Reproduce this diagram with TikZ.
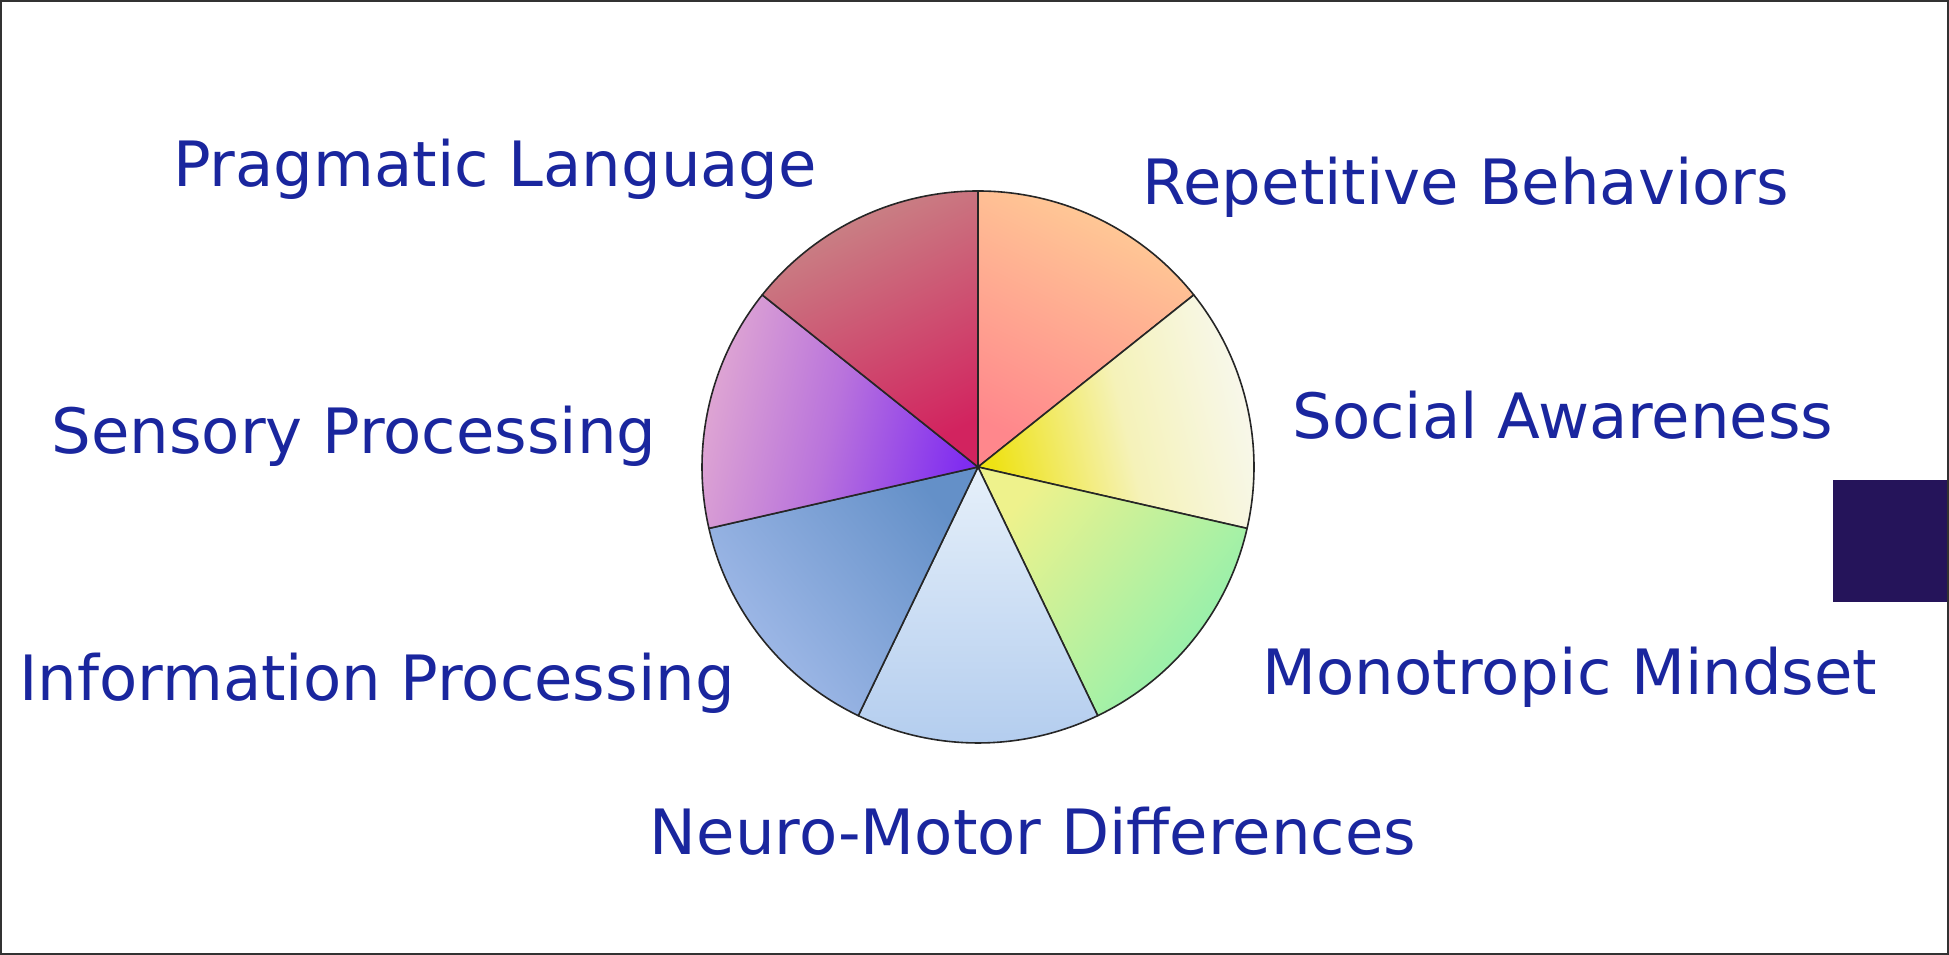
\documentclass[tikz,border=0pt]{standalone}
\usepackage{fontspec}
\setmainfont{DejaVu Sans}

\definecolor{labelblue}{RGB}{26,38,158}
\definecolor{tabviolet}{RGB}{37,20,90}
\definecolor{framegray}{RGB}{50,50,50}

\begin{document}
\begin{tikzpicture}[x=1pt,y=1pt,
  lbl/.style={text=labelblue, inner sep=0pt, anchor=base,
              font=\fontsize{62.5}{70}\selectfont},
  sector/.style={draw=black!85, line width=1.6pt, line join=round}]

\useasboundingbox (0,0) rectangle (1949,955);
\fill[white] (0,0) rectangle (1949,955);

% pie of seven equal slices
\coordinate (pc) at (978,488);
\def\R{276}

% Repetitive Behaviors
\shadedraw[sector, top color={rgb,255:red,255;green,205;blue,150},
  bottom color={rgb,255:red,255;green,135;blue,140}, shading angle=-25.7]
  (pc) -- +(90:\R) arc[start angle=90, end angle=38.571, radius=\R] -- cycle;
% Social Awareness
\shadedraw[sector, top color={rgb,255:red,248;green,248;blue,240},
  bottom color={rgb,255:red,238;green,226;blue,20},
  middle color={rgb,255:red,245;green,242;blue,185}, shading angle=-77.1]
  (pc) -- +(38.571:\R) arc[start angle=38.571, end angle=-12.857, radius=\R] -- cycle;
% Monotropic Mindset
\shadedraw[sector, top color={rgb,255:red,140;green,240;blue,175},
  bottom color={rgb,255:red,238;green,242;blue,140}, shading angle=-128.6]
  (pc) -- +(-12.857:\R) arc[start angle=-12.857, end angle=-64.286, radius=\R] -- cycle;
% Neuro-Motor Differences
\shadedraw[sector, top color={rgb,255:red,178;green,204;blue,238},
  bottom color={rgb,255:red,230;green,240;blue,250}, shading angle=180]
  (pc) -- +(-64.286:\R) arc[start angle=-64.286, end angle=-115.714, radius=\R] -- cycle;
% Information Processing
\shadedraw[sector, top color={rgb,255:red,164;green,188;blue,234},
  bottom color={rgb,255:red,100;green,144;blue,200}, shading angle=128.6]
  (pc) -- +(-115.714:\R) arc[start angle=-115.714, end angle=-167.143, radius=\R] -- cycle;
% Sensory Processing
\shadedraw[sector, top color={rgb,255:red,226;green,170;blue,210},
  bottom color={rgb,255:red,128;green,45;blue,240},
  middle color={rgb,255:red,185;green,115;blue,220}, shading angle=77.1]
  (pc) -- +(192.857:\R) arc[start angle=192.857, end angle=141.429, radius=\R] -- cycle;
% Pragmatic Language
\shadedraw[sector, top color={rgb,255:red,200;green,135;blue,135},
  bottom color={rgb,255:red,210;green,35;blue,95}, shading angle=25.7]
  (pc) -- +(141.429:\R) arc[start angle=141.429, end angle=90, radius=\R] -- cycle;

% labels
\node[lbl] (prag) at (495,768) {Pragmatic Language};
\node[lbl] (rep)  at (1466,750) {Repetitive Behaviors};
\node[lbl] (soc)  at (1563,516) {Social Awareness};
\node[lbl] (sens) at (354,501) {Sensory Processing};
\node[lbl] (info) at (377,254) {Information Processing};
\node[lbl] (mono) at (1570,260) {Monotropic Mindset};
\node[lbl] (neuro) at (1033,100) {Neuro-Motor Differences};

% tab on the right edge
\fill[tabviolet] (1833,353) rectangle (1949,475);

% outer frame
\draw[framegray, line width=2pt] (1,1) rectangle (1948,954);
\end{tikzpicture}
\end{document}
